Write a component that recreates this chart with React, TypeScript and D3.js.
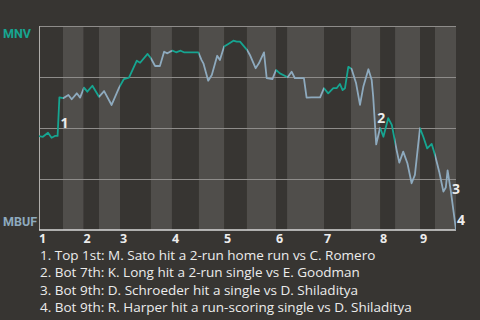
import React from "react";
import * as d3 from "d3";

// ---- data ----
const innings = ["1", "2", "3", "4", "5", "6", "7", "8", "9"];
// start of each half-inning, in game-progress units (plays)
const halfStarts = [0, 8, 14.8, 20, 27, 37.3, 44.3, 53.3, 61.7, 69.3, 79, 82.7, 95, 104, 113.7, 118.7, 127, 132];
const gameLength = 139;
const homeTeam = "MBUF";
const awayTeam = "MNV";

const progress = [
  0, 1.3, 3, 4.2, 5.3, 6.2, 6.8, 8.1, 9.8, 10.9, 12.6, 13.7, 15, 16.1, 17.8, 20, 21.7, 24.2, 26.7, 28.3,
  30, 32.6, 33.7, 36.2, 37.3, 38.7, 40.3, 41.7, 42.8, 43.7, 44.6, 45.7, 47.2, 48.3, 53.1, 54.2, 54.8, 56.4, 57.6, 58.7,
  59.4, 60.3, 61.7, 63.1, 64.8, 65.9, 67, 69.4, 70.3, 72.2, 73.3, 75, 75.9, 77.8, 79, 80.3, 82.9, 84.2, 85.3, 88.3,
  89.2, 90.9, 93.7, 95, 96.4, 98.1, 99.2, 100.3, 101.2, 102, 103.1, 104.2, 105.7, 107, 108.1, 109.8, 110.9, 111.4, 112.4, 113.7,
  114.8, 116.4, 117.6, 119.2, 120.1, 121.4, 122.8, 124.2, 125.3, 127, 128.1, 129.4, 130.9, 132, 133.4, 134.8, 135.6, 136.2, 137.3, 139,
];
// win probability of the away team (MNV), percent
const winProb = [
  46, 45.7, 47.7, 45.2, 46.1, 46.1, 65, 64.6, 66.2, 64.1, 67, 64.9, 69.8, 67.8, 70.7, 65.3, 68.1, 61.3, 69.8, 74,
  74.7, 83, 82, 86.3, 84.2, 80.4, 80.4, 87.4, 86.6, 87.4, 87.9, 87.1, 87.9, 87.1, 87.1, 83.3, 81.7, 73.2, 76, 81.7,
  85.4, 83.3, 89.9, 91.2, 92.8, 92.3, 92.3, 88.2, 85.8, 79.3, 81.7, 87.1, 74.4, 74, 78.4, 76.8, 74.9, 77.6, 74.4, 74.4,
  64.9, 65, 65, 69.5, 67, 69.5, 69.5, 71.6, 68.6, 69.5, 80, 78.9, 71.9, 61.3, 70.2, 78.8, 73.5, 65.3, 42, 50.1,
  45.7, 54.8, 51.5, 39.2, 33, 38.4, 32.7, 22.9, 27, 49.9, 45.7, 40, 42.2, 36.8, 28.6, 18.8, 20.8, 29.2, 18.8, 0,
];
const eventPlays = [6, 78, 98, 99];
const eventTexts = [
  "1. Top 1st: M. Sato hit a 2-run home run vs C. Romero",
  "2. Bot 7th: K. Long hit a 2-run single vs E. Goodman",
  "3. Bot 9th: D. Schroeder hit a single vs D. Shiladitya",
  "4. Bot 9th: R. Harper hit a run-scoring single vs D. Shiladitya",
];

// ---- layout / style ----
const W = 480;
const H = 320;
const plot = { left: 39, right: 456, top: 26, bottom: 230 };
const labelDy = [11.5, 2.5, 13, 14.5];
const BG = "#373532";
const BAND = "#504e4b";
const TEAL = "#16a591";
const STEEL = "#8eaabe";
const TEXT = "#ececec";
const FONT = "'Open Sans', 'Noto Sans', sans-serif";
const TEAM_FONT = "Roboto, 'Open Sans', sans-serif";

export default function App() {
  const x = d3.scaleLinear().domain([0, gameLength]).range([plot.left, plot.right]);
  const y = d3.scaleLinear().domain([0, 100]).range([plot.bottom, plot.top]);
  const lineGen = d3
    .line<number>()
    .x((_, i) => x(progress[i]))
    .y((d) => y(d));
  const path = lineGen(winProb) || "";

  const halves = halfStarts.map((s, i) => ({
    x0: x(s),
    x1: x(i + 1 < halfStarts.length ? halfStarts[i + 1] : gameLength),
    top: i % 2 === 0,
  }));
  const inningStarts = innings.map((lab, i) => ({ lab, x: x(halfStarts[i * 2]) }));
  const grid = [25, 50, 75, 100];

  return (
    <svg
      width={W}
      height={H}
      style={{ position: "absolute", left: 0, top: 0, display: "block" }}
      fontFamily={FONT}
    >
      <defs>
        <clipPath id="topHalves">
          {halves.filter((h) => h.top).map((h, i) => (
            <rect key={i} x={h.x0} y={0} width={h.x1 - h.x0} height={H} />
          ))}
        </clipPath>
        <clipPath id="botHalves">
          {halves.filter((h) => !h.top).map((h, i) => (
            <rect key={i} x={h.x0} y={0} width={h.x1 - h.x0} height={H} />
          ))}
        </clipPath>
      </defs>
      <rect x={0} y={0} width={W} height={H} fill={BG} />
      {halves.map((h, i) =>
        h.top ? null : (
          <rect key={i} x={h.x0} y={plot.top} width={h.x1 - h.x0} height={plot.bottom - plot.top} fill={BAND} />
        )
      )}
      {grid.map((g) => (
        <line key={g} x1={plot.left} x2={plot.right} y1={y(g) + 0.5} y2={y(g) + 0.5} stroke="#8e8c8a" strokeWidth={1} />
      ))}
      <line x1={plot.left + 0.5} x2={plot.left + 0.5} y1={plot.top} y2={plot.bottom} stroke="#b0aeab" strokeWidth={1} />
      <line x1={plot.left} x2={plot.right} y1={plot.bottom} y2={plot.bottom} stroke="#d8d8d8" strokeWidth={1.5} />

      <path d={path} fill="none" stroke={TEAL} strokeWidth={1.8} strokeLinejoin="round" clipPath="url(#topHalves)" />
      <path d={path} fill="none" stroke={STEEL} strokeWidth={1.8} strokeLinejoin="round" clipPath="url(#botHalves)" />

      {eventPlays.map((idx, i) => {
        const midY = (y(winProb[idx - 1]) + y(winProb[idx])) / 2;
        return (
          <text key={i} x={x(progress[idx]) + 1} y={midY + labelDy[i]} fill={TEXT} fontSize={14} fontWeight="bold">
            {i + 1}
          </text>
        );
      })}

      <text x={3} y={38} fill={TEAL} fontSize={12.5} fontWeight="bold" fontFamily={TEAM_FONT}>{awayTeam}</text>
      <text x={3} y={226} fill={STEEL} fontSize={12.5} fontWeight="bold" fontFamily={TEAM_FONT}>{homeTeam}</text>

      {inningStarts.map((d) => (
        <text key={d.lab} x={d.x} y={243} fill={TEXT} fontSize={12.5} fontWeight="bold">
          {d.lab}
        </text>
      ))}

      {eventTexts.map((t, i) => (
        <text key={i} x={40} y={259.5 + i * 17.5} fill={TEXT} fontSize={13.5}>
          {t}
        </text>
      ))}
    </svg>
  );
}
